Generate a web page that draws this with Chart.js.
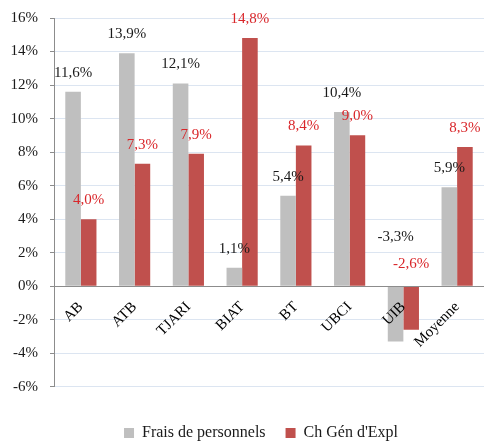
<!DOCTYPE html>
<html><head><meta charset="utf-8">
<script src="https://cdn.jsdelivr.net/npm/chart.js@4.4.1/dist/chart.umd.min.js"></script>
<style>html,body{margin:0;padding:0;background:#fff;} #wrap{width:484px;height:441px;position:relative;}</style>
</head><body><div id="wrap"><canvas id="c"></canvas></div>
<script>
const categories = ['AB', 'ATB', 'TJARI', 'BIAT', 'BT', 'UBCI', 'UIB', 'Moyenne'];
const fraisPersonnels = [11.6, 13.9, 12.1, 1.1, 5.4, 10.4, -3.3, 5.9];
const chGenExpl = [4.0, 7.3, 7.9, 14.8, 8.4, 9.0, -2.6, 8.3];
const seriesNames = ['Frais de personnels', "Ch Gén d'Expl"];
const yMin = -6, yMax = 16, yStep = 2;

const FONT = '"Liberation Serif", "Times New Roman", serif';

const valueLabels = {
  id: 'valueLabels',
  afterDatasetsDraw(chart) {
    const ctx = chart.ctx;
    const y0 = chart.scales.y.getPixelForValue(0);
    chart.data.datasets.forEach((ds, di) => {
      const meta = chart.getDatasetMeta(di);
      meta.data.forEach((bar, i) => {
        const v = ds.data[i];
        const txt = v.toFixed(1).replace('.', ',') + '%';
        const y = v >= 0 ? bar.y - 19 : y0 - ds.negLabelOffset;
        ctx.save();
        ctx.font = '15px ' + FONT;
        ctx.fillStyle = ds.labelColor;
        ctx.textAlign = 'center';
        ctx.textBaseline = 'middle';
        ctx.fillText(txt, bar.x, y);
        ctx.restore();
      });
    });
  }
};

const legendShift = {
  id: 'legendShift',
  afterLayout(chart) {
    if (chart.legend) { chart.legend.left -= 8; chart.legend.right -= 8; }
  }
};

new Chart(document.getElementById('c'), {
  type: 'bar',
  data: {
    labels: categories,
    datasets: [
      { label: seriesNames[0], data: fraisPersonnels, backgroundColor: '#BFBFBF', labelColor: '#1a1a1a', negLabelOffset: 49,
        categoryPercentage: 0.58, barPercentage: 1 },
      { label: seriesNames[1], data: chGenExpl, backgroundColor: '#C0504D', labelColor: '#D9262A', negLabelOffset: 22,
        categoryPercentage: 0.58, barPercentage: 1 }
    ]
  },
  options: {
    responsive: true,
    maintainAspectRatio: false,
    animation: false,
    layout: { padding: { top: 18, right: 0, left: 0, bottom: -10 } },
    scales: {
      x: {
        position: { y: 0 },
        grid: { display: false, drawTicks: false },
        border: { display: true, color: '#8C8C8C', width: 1, z: 1 },
        ticks: { z: 1, color: '#000', font: { family: FONT, size: 15 }, minRotation: 45, maxRotation: 45, autoSkip: false, padding: 12 }
      },
      y: {
        min: yMin, max: yMax,
        afterFit(scale) { scale.width = 54; scale.paddingTop = 0; scale.paddingBottom = 0; },
        grid: { color: '#DCE5F1', lineWidth: 1, tickColor: '#8C8C8C', tickLength: 4 },
        border: { display: true, color: '#8C8C8C', width: 1 },
        ticks: { stepSize: yStep, color: '#1a1a1a', font: { family: FONT, size: 15 }, padding: 12,
          callback: v => v + '%' }
      }
    },
    plugins: {
      tooltip: { enabled: false },
      legend: {
        position: 'bottom',
        fullSize: false,
        title: { display: true, text: '', font: { size: 1 }, padding: { top: 17, bottom: 0 } },
        labels: { boxWidth: 10, boxHeight: 10, padding: 20, color: '#1a1a1a', font: { family: FONT, size: 16 } }
      }
    }
  },
  plugins: [valueLabels, legendShift]
});
</script>
</body></html>
